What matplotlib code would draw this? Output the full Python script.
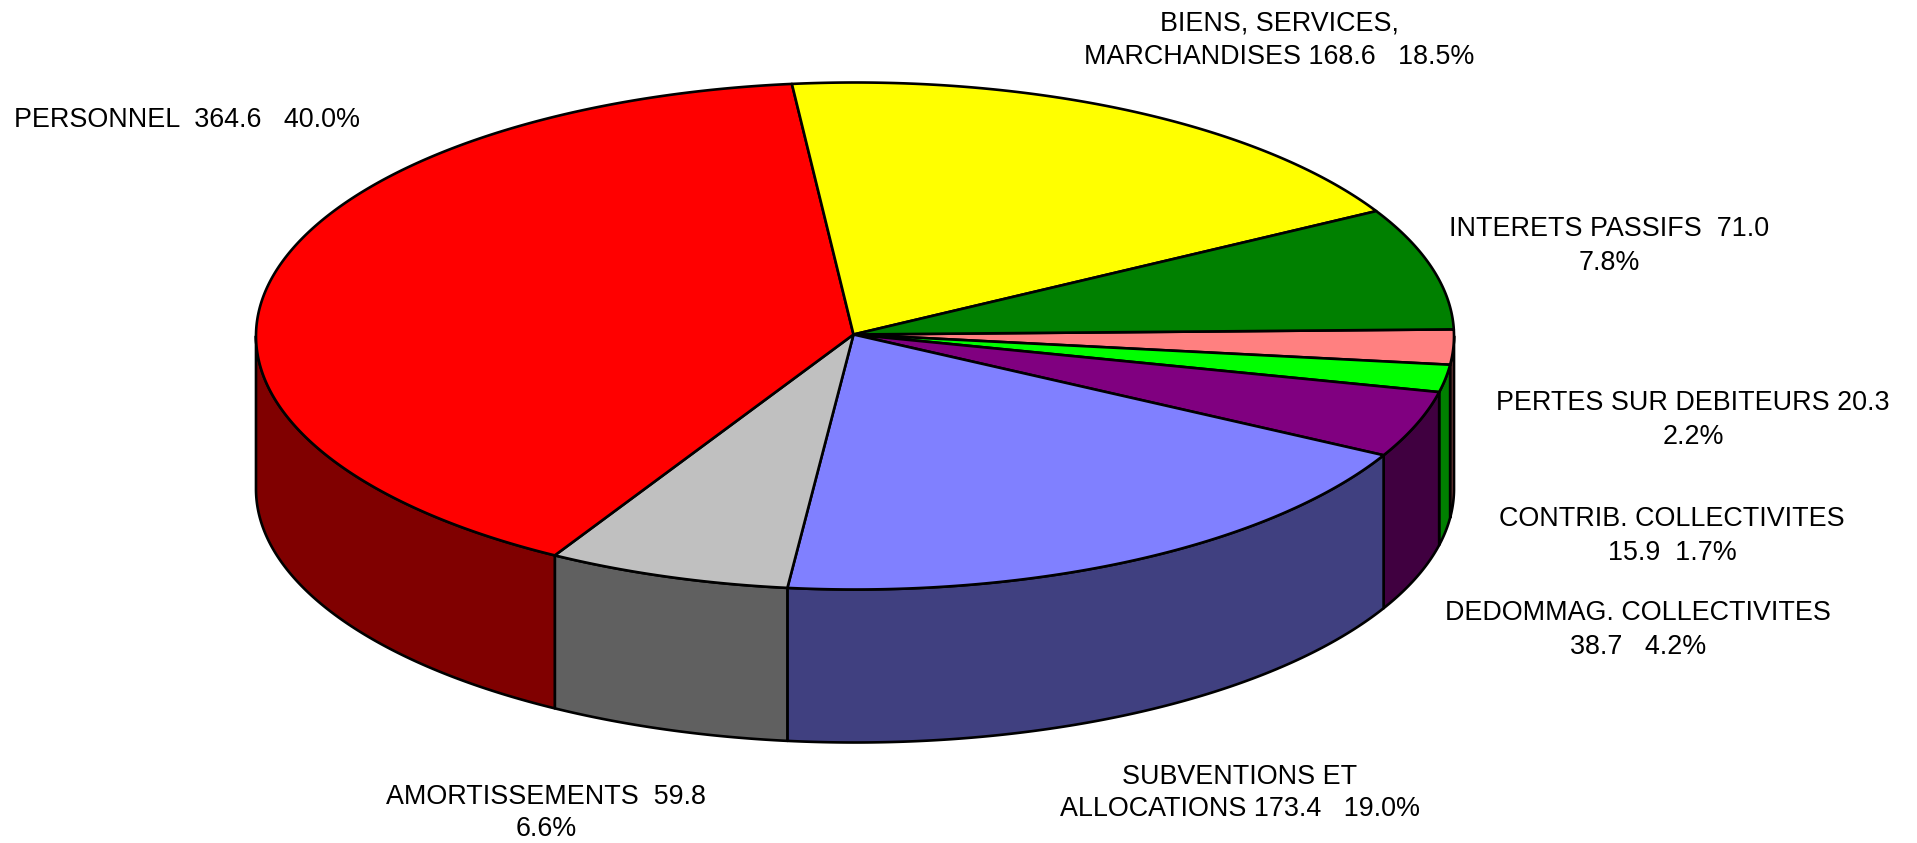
import numpy as np
import matplotlib
matplotlib.use("Agg")
import matplotlib.pyplot as plt
from matplotlib.patches import Polygon

plt.rcParams['font.family'] = ['Liberation Sans', 'DejaVu Sans']

names = ["PERTES SUR DEBITEURS", "CONTRIB. COLLECTIVITES", "DEDOMMAG. COLLECTIVITES",
         "SUBVENTIONS ET ALLOCATIONS", "AMORTISSEMENTS", "PERSONNEL",
         "BIENS, SERVICES, MARCHANDISES", "INTERETS PASSIFS"]
values = [20.3, 15.9, 38.7, 173.4, 59.8, 364.6, 168.6, 71.0]
top_colors = ["#FF8080", "#00FF00", "#800080", "#8080FF", "#C0C0C0", "#FF0000", "#FFFF00", "#008000"]
side_colors = ["#7F4040", "#008000", "#400040", "#404080", "#606060", "#800000", "#808000", "#004000"]
labels = ["PERTES SUR DEBITEURS 20.3\n2.2%", "CONTRIB. COLLECTIVITES\n15.9  1.7%",
          "DEDOMMAG. COLLECTIVITES\n38.7   4.2%", "SUBVENTIONS ET\nALLOCATIONS 173.4   19.0%",
          "AMORTISSEMENTS  59.8\n6.6%", "PERSONNEL  364.6   40.0%",
          "BIENS, SERVICES,\nMARCHANDISES 168.6   18.5%", "INTERETS PASSIFS  71.0\n7.8%"]
label_xy = [(1693, 420), (1672, 536), (1638, 630), (1240, 793), (546, 813), (187, 120), (1279, 40), (1609, 246)]

W, H = 1917, 843
CX, CY, RX, RY, DEPTH = 855, 336, 599, 253.5, 153
START = -1.5

fig = plt.figure(figsize=(W / 100, H / 100), dpi=100)
ax = fig.add_axes([0, 0, 1, 1])
ax.set_xlim(0, W)
ax.set_ylim(H, 0)
ax.axis("off")

shares = np.array(values) / np.sum(values) * 360
edges = START + np.concatenate([[0], np.cumsum(shares)])


def rim(a0, a1, dy=0.0):
    t = np.radians(np.linspace(a0, a1, max(int(abs(a1 - a0) * 3), 2)))
    return np.column_stack([CX + RX * np.cos(t), CY + RY * np.sin(t) + dy])


lw = 1.9
# sides (visible only in the front half, angles 0..180 clockwise on screen)
for i in range(len(values)):
    a0, a1 = max(edges[i], 0), min(edges[i + 1], 180)
    if a1 <= a0:
        continue
    poly = np.vstack([rim(a0, a1), rim(a0, a1, DEPTH)[::-1]])
    ax.add_patch(Polygon(poly, closed=True, fc=side_colors[i], ec="black", lw=lw, joinstyle="round"))
# top
for i in range(len(values)):
    poly = np.vstack([[[CX - 1.5, CY - 1.5]], rim(edges[i], edges[i + 1])])
    ax.add_patch(Polygon(poly, closed=True, fc=top_colors[i], ec="black", lw=lw, joinstyle="round"))

for txt, (x, y) in zip(labels, label_xy):
    ax.text(x, y, txt, ha="center", va="center", fontsize=19.4, color="black", linespacing=1.35)

fig.savefig("out.png", dpi=100)
